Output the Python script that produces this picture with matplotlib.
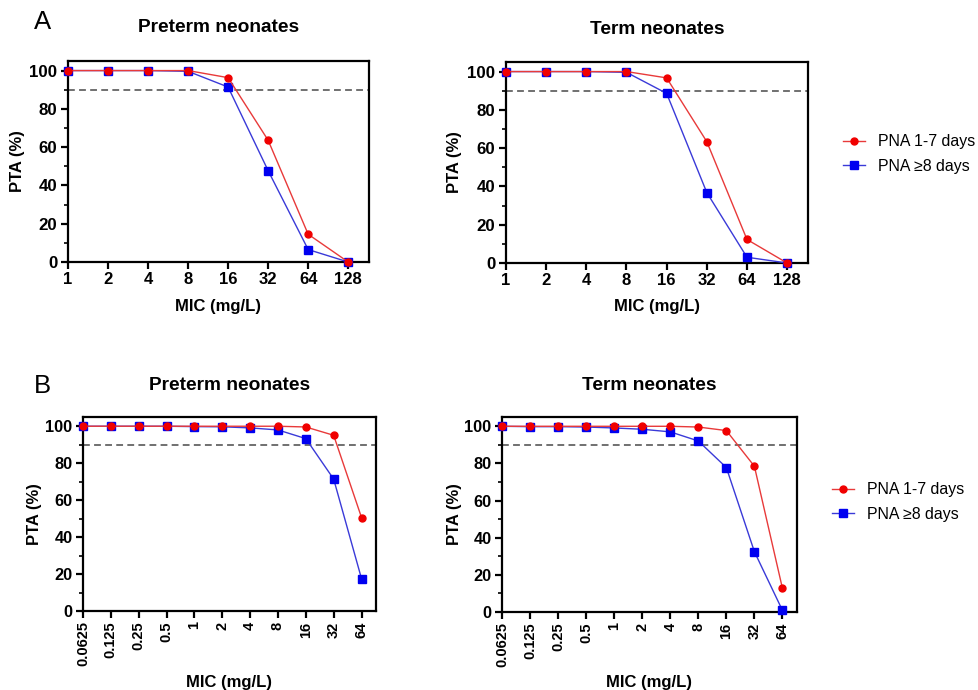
import matplotlib
matplotlib.use("Agg")
import matplotlib.pyplot as plt
from matplotlib.ticker import MultipleLocator

plt.rcParams['font.family'] = ['Liberation Sans', 'DejaVu Sans']

# ---- data ----
mic_a = ["1", "2", "4", "8", "16", "32", "64", "128"]
a_pre_red = [100, 100, 100, 100, 96.3, 63.6, 14.5, 0]
a_pre_blue = [100, 100, 100, 99.6, 91.4, 47.7, 6.5, 0]
a_term_red = [100, 100, 100, 100, 96.7, 63.4, 12.3, 0]
a_term_blue = [100, 100, 100, 99.6, 88.6, 36.8, 3.0, 0]

mic_b = ["0.0625", "0.125", "0.25", "0.5", "1", "2", "4", "8", "16", "32", "64"]
b_pre_red = [100, 100, 100, 100, 100, 100, 100, 100, 99.6, 95.1, 50.6]
b_pre_blue = [100, 100, 100, 100, 99.8, 99.7, 99.1, 98.0, 93.3, 71.4, 17.5]
b_term_red = [100, 100, 100, 100, 100, 100, 100, 99.6, 97.7, 78.5, 12.8]
b_term_blue = [100, 99.8, 99.8, 99.6, 99.1, 98.4, 97.0, 92.1, 77.8, 32.5, 0.9]

target = 90
labels = ["PNA 1-7 days", "PNA \u22658 days"]
titles = ["Preterm neonates", "Term neonates"]

RED_LINE = "#e83a3a"
RED_MK = "#f00000"
BLUE_LINE = "#3a3ad8"
BLUE_MK = "#0000f0"

W, H = 979.0, 690.0
fig = plt.figure(figsize=(9.79, 6.9), dpi=100)


def fx(px):
    return px / W


def fy(py):
    return 1 - py / H


def make_ax(l, t, r, b):
    ax = fig.add_axes([fx(l), fy(b), fx(r) - fx(l), fy(t) - fy(b)])
    ax._box = (l, t, r, b)
    return ax


def style(ax, cats, rotate, xlab_y, ylab_x, title_y):
    l, t, r, b = ax._box
    n = len(cats)
    ax.set_xlim(0, n - 1 + 0.52)
    ax.set_ylim(0, 105)
    ax.set_xticks(range(n))
    ax.set_xticklabels(cats, rotation=90 if rotate else 0, fontweight='bold',
                       fontsize=10.5 if rotate else 12)
    ax.set_yticks([0, 20, 40, 60, 80, 100])
    ax.yaxis.set_minor_locator(MultipleLocator(10))
    for lab in ax.get_yticklabels():
        lab.set_fontweight('bold')
        lab.set_fontsize(11.8 if rotate else 12.2)
    for s in ax.spines.values():
        s.set_linewidth(1.6)
        s.set_color('black')
    ax.tick_params(axis='both', which='major', direction='out', length=5, width=1.6, pad=2.5)
    ax.tick_params(axis='y', which='minor', direction='out', length=3, width=1.2)
    ax.axhline(target, color='#707070', lw=1.4, ls=(0, (3.5, 2.2)), zorder=1)

    xl = ax.set_xlabel("MIC (mg/L)", fontweight='bold', fontsize=12)
    ax.xaxis.set_label_coords(0.5, -(xlab_y - b) / (b - t))
    xl.set_va('center')
    yl = ax.set_ylabel("PTA (%)", fontweight='bold', fontsize=12)
    ax.yaxis.set_label_coords(-(l - ylab_x) / (r - l), 0.5)
    yl.set_va('center')
    fig.text(fx((l + r) / 2), fy(title_y), titles[0] if ax._pre else titles[1],
             fontweight='bold', fontsize=13.8, ha='center', va='center')


def plot_pair(ax, cats, red, blue):
    x = list(range(len(cats)))
    h2, = ax.plot(x, blue, color=BLUE_LINE, lw=1.0, marker='s', ms=5.8,
                  mfc=BLUE_MK, mec=BLUE_MK, clip_on=False, zorder=3)
    h1, = ax.plot(x, red, color=RED_LINE, lw=1.0, marker='o', ms=5.0,
                  mfc=RED_MK, mec=RED_MK, clip_on=False, zorder=4)
    return h1, h2


ax1 = make_ax(68, 61, 369, 262)
ax1._pre = True
plot_pair(ax1, mic_a, a_pre_red, a_pre_blue)
style(ax1, mic_a, False, xlab_y=307, ylab_x=18, title_y=28)

ax2 = make_ax(506, 62, 808, 263)
ax2._pre = False
h1, h2 = plot_pair(ax2, mic_a, a_term_red, a_term_blue)
style(ax2, mic_a, False, xlab_y=307, ylab_x=455, title_y=29)

ax3 = make_ax(83, 417, 376, 611)
ax3._pre = True
plot_pair(ax3, mic_b, b_pre_red, b_pre_blue)
style(ax3, mic_b, True, xlab_y=682, ylab_x=35, title_y=385)

ax4 = make_ax(502, 417, 797, 612)
ax4._pre = False
g1, g2 = plot_pair(ax4, mic_b, b_term_red, b_term_blue)
style(ax4, mic_b, True, xlab_y=682, ylab_x=455, title_y=386)

leg_kw = dict(frameon=False, fontsize=11.4, handlelength=1.4, handletextpad=0.8,
              labelspacing=0.58, loc='center left', borderaxespad=0, borderpad=0.4)
fig.legend([h1, h2], labels, bbox_to_anchor=(fx(837), fy(154)), **leg_kw)
fig.legend([g1, g2], labels, bbox_to_anchor=(fx(826), fy(502)), **leg_kw)

fig.text(fx(34), fy(22), "A", fontsize=18.5, va='center', ha='left')
fig.text(fx(34), fy(386), "B", fontsize=18.5, va='center', ha='left')

fig.savefig("out.png", dpi=100)
